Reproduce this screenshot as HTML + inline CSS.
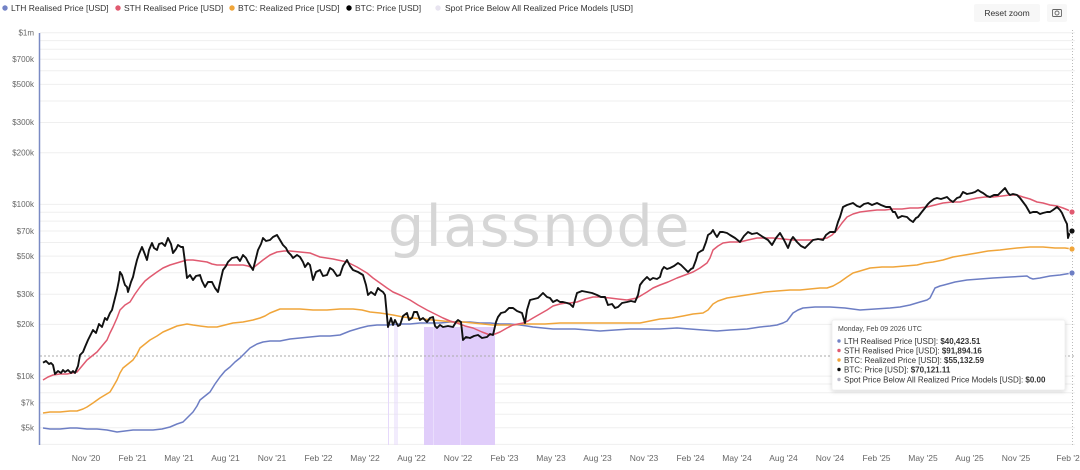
<!DOCTYPE html>
<html><head><meta charset="utf-8">
<style>
html,body{margin:0;padding:0;background:#fff;}
svg{display:block;font-family:"Liberation Sans",Arial,sans-serif;}
</style></head>
<body>
<svg width="1080" height="470" viewBox="0 0 1080 470" xmlns="http://www.w3.org/2000/svg">
<defs>
<filter id="sh" x="-10%" y="-20%" width="120%" height="150%">
<feDropShadow dx="0" dy="1" stdDeviation="2" flood-color="#000" flood-opacity="0.18"/>
</filter>
</defs>
<rect width="1080" height="470" fill="#fff"/>

<!-- legend -->
<g font-size="8.5" fill="#333">
<circle cx="5" cy="8" r="2.7" fill="#7383c6"/><text x="11" y="11">LTH Realised Price [USD]</text>
<circle cx="118" cy="8" r="2.7" fill="#e05a70"/><text x="124" y="11">STH Realised Price [USD]</text>
<circle cx="232" cy="8" r="2.7" fill="#f0a53a"/><text x="238" y="11">BTC: Realized Price [USD]</text>
<circle cx="349" cy="8" r="2.7" fill="#000"/><text x="355" y="11">BTC: Price [USD]</text>
<circle cx="438" cy="8" r="2.7" fill="#e8e4f0"/><text x="445" y="11">Spot Price Below All Realized Price Models [USD]</text>
</g>

<!-- reset zoom / camera -->
<rect x="974" y="4" width="66" height="18" rx="2" fill="#f7f7f7"/>
<text x="1007" y="16" font-size="8.5" fill="#333" text-anchor="middle">Reset zoom</text>
<rect x="1047" y="4" width="20" height="18" rx="2" fill="#f7f7f7"/>
<g fill="none" stroke="#666" stroke-width="0.9">
<rect x="1052.5" y="9.5" width="9" height="7" rx="1"/>
<circle cx="1057" cy="13" r="2"/>
</g>

<!-- gridlines -->
<g stroke="#efefef" stroke-width="1">
<line x1="40" x2="1075" y1="32.7" y2="32.7"/>
<line x1="40" x2="1075" y1="40.6" y2="40.6"/>
<line x1="40" x2="1075" y1="49.3" y2="49.3"/>
<line x1="40" x2="1075" y1="59.3" y2="59.3"/>
<line x1="40" x2="1075" y1="70.8" y2="70.8"/>
<line x1="40" x2="1075" y1="84.4" y2="84.4"/>
<line x1="40" x2="1075" y1="101" y2="101"/>
<line x1="40" x2="1075" y1="122.5" y2="122.5"/>
<line x1="40" x2="1075" y1="152.7" y2="152.7"/>
<line x1="40" x2="1075" y1="204.4" y2="204.4"/>
<line x1="40" x2="1075" y1="212.3" y2="212.3"/>
<line x1="40" x2="1075" y1="221.1" y2="221.1"/>
<line x1="40" x2="1075" y1="231" y2="231"/>
<line x1="40" x2="1075" y1="242.5" y2="242.5"/>
<line x1="40" x2="1075" y1="256.1" y2="256.1"/>
<line x1="40" x2="1075" y1="272.7" y2="272.7"/>
<line x1="40" x2="1075" y1="294.2" y2="294.2"/>
<line x1="40" x2="1075" y1="324.4" y2="324.4"/>
<line x1="40" x2="1075" y1="376.1" y2="376.1"/>
<line x1="40" x2="1075" y1="384" y2="384"/>
<line x1="40" x2="1075" y1="392.7" y2="392.7"/>
<line x1="40" x2="1075" y1="402.7" y2="402.7"/>
<line x1="40" x2="1075" y1="414.2" y2="414.2"/>
<line x1="40" x2="1075" y1="427.8" y2="427.8"/>
<line x1="40" x2="1075" y1="444.4" y2="444.4"/>
</g>

<!-- watermark -->
<text x="388" y="246" font-family="DejaVu Sans, Liberation Sans, sans-serif" font-size="57" letter-spacing="1.6" fill="#d6d6d6">glassnode</text>

<!-- purple regions -->
<rect x="424" y="327" width="71" height="118" fill="#e0cdfa"/>
<line x1="433.5" x2="433.5" y1="327" y2="445" stroke="#e9ddfc" stroke-width="1"/>
<line x1="460.5" x2="460.5" y1="327" y2="445" stroke="#e9ddfc" stroke-width="1"/>
<g stroke="#e6d9fb" stroke-width="1">
<line x1="388.5" x2="388.5" y1="324" y2="445"/>
<line x1="395" x2="395" y1="324" y2="445"/>
<line x1="397" x2="397" y1="324" y2="445"/>
</g>

<!-- y axis labels -->
<g font-size="8" fill="#666" text-anchor="end">
<text x="34" y="35.5">$1m</text>
<text x="34" y="62">$700k</text>
<text x="34" y="87">$500k</text>
<text x="34" y="125">$300k</text>
<text x="34" y="155.5">$200k</text>
<text x="34" y="207">$100k</text>
<text x="34" y="234">$70k</text>
<text x="34" y="259">$50k</text>
<text x="34" y="297">$30k</text>
<text x="34" y="327">$20k</text>
<text x="34" y="379">$10k</text>
<text x="34" y="405.5">$7k</text>
<text x="34" y="430.5">$5k</text>
</g>

<!-- x axis labels -->
<g font-size="8.5" fill="#666" text-anchor="middle">
<text x="86" y="461">Nov '20</text>
<text x="132.5" y="461">Feb '21</text>
<text x="179" y="461">May '21</text>
<text x="225.5" y="461">Aug '21</text>
<text x="272" y="461">Nov '21</text>
<text x="318.5" y="461">Feb '22</text>
<text x="365" y="461">May '22</text>
<text x="411.5" y="461">Aug '22</text>
<text x="458" y="461">Nov '22</text>
<text x="504.5" y="461">Feb '23</text>
<text x="551" y="461">May '23</text>
<text x="597.5" y="461">Aug '23</text>
<text x="644" y="461">Nov '23</text>
<text x="690.5" y="461">Feb '24</text>
<text x="737" y="461">May '24</text>
<text x="783.5" y="461">Aug '24</text>
<text x="830" y="461">Nov '24</text>
<text x="876.5" y="461">Feb '25</text>
<text x="923" y="461">May '25</text>
<text x="969.5" y="461">Aug '25</text>
<text x="1016" y="461">Nov '25</text>
<text x="1068" y="461">Feb '2</text>
</g>

<!-- crosshairs -->
<line x1="40" x2="1075" y1="356" y2="356" stroke="#aaa" stroke-width="1" stroke-dasharray="2,2"/>
<line x1="1072.5" x2="1072.5" y1="30" y2="445" stroke="#bbb" stroke-width="1" stroke-dasharray="1,2"/>

<!-- y axis line -->
<line x1="39.5" x2="39.5" y1="33" y2="445" stroke="#7a8ac4" stroke-width="1.5"/>

<!-- LTH -->
<polyline fill="none" stroke="#6d7ec4" stroke-width="1.5" stroke-linejoin="round" points="43,428 50,429 60,429 70,428 77,428 87,429 97,429 107,430 117,432 125,431 133,430 143,430 153,430 162,429 170,427 177,424 183,422 188,417 193,412 197,406 200,400 205,396 210,392 215,384 220,377 225,371 230,367 235,362 240,358 245,353 250,348 257,344 263,342 270,341 280,341 290,339 300,338 310,337 320,336 330,336 340,335 350,331 360,328 368,326 377,325 388,325 400,324 410,324 420,323 430,323 440,323 450,322 460,322 470,322 480,323 490,323 500,324 510,324 520,325 527,326 533,327 543,328 553,329 563,329 575,329 588,330 600,331 615,330 630,329 643,329 660,329 677,328 690,329 703,330 717,331 730,330 747,329 760,327 770,326 777,325 783,323 787,321 790,317 793,313 798,310 803,308 815,307 830,307 845,308 860,310 875,309 890,308 900,307 910,305 920,302 927,300 930,298 932,294 935,288 940,286 944,285 955,282 967,280 980,279 993,278 1010,277 1027,276 1030,278 1033,279 1040,278 1050,276 1060,275 1072,273"/>

<!-- Realized price -->
<polyline fill="none" stroke="#f0a53a" stroke-width="1.5" stroke-linejoin="round" points="43,413 50,412 60,412 70,411 77,411 83,409 87,407 93,403 100,398 105,395 110,392 113,387 117,380 120,373 123,368 128,364 133,360 137,354 140,348 145,344 150,340 157,336 163,332 170,329 177,326 182,325 187,324 193,325 200,326 208,327 217,327 225,325 233,323 243,322 253,320 260,318 265,316 270,313 275,311 280,309 290,309 300,309 313,310 327,310 340,309 353,309 362,310 370,312 380,313 393,315 403,317 413,318 423,319 433,320 443,321 453,322 463,322 473,323 483,324 493,325 503,325 513,325 523,324 533,324 545,324 560,323 575,323 593,323 610,323 625,323 640,323 650,321 660,319 672,318 683,316 693,314 703,313 708,310 713,304 718,301 727,298 740,296 753,294 765,292 777,291 790,290 800,290 810,289 820,288 827,288 833,286 840,282 847,277 853,273 860,271 870,268 882,267 893,267 905,266 917,265 925,263 933,262 943,260 953,257 965,255 977,253 988,251 1000,250 1008,249 1017,248 1030,247 1043,247 1055,248 1065,248 1072,249"/>

<!-- STH -->
<polyline fill="none" stroke="#e05a70" stroke-width="1.5" stroke-linejoin="round" points="43,380 48,377 53,375 60,374 67,374 72,373 77,372 82,366 87,360 92,356 97,352 102,346 107,340 110,333 113,327 117,318 120,310 125,305 130,302 135,294 140,287 145,281 150,277 157,272 163,268 170,265 180,262 187,260 193,260 200,261 207,262 212,264 217,265 225,265 230,265 237,265 243,265 248,266 253,268 258,264 263,260 270,255 277,252 284,251 290,251 300,252 310,253 320,257 333,259 347,262 357,267 367,273 373,278 380,283 387,288 393,292 400,295 410,300 418,305 427,310 435,314 443,318 450,321 457,323 465,326 473,328 482,332 490,335 495,334 500,332 507,328 513,325 518,324 523,323 528,321 533,318 540,314 547,310 553,306 560,304 566,303 570,303 577,302 585,299 593,297 600,297 610,298 618,299 627,300 637,298 642,295 647,292 653,288 660,285 668,282 677,278 685,275 693,272 700,268 707,263 710,258 713,250 718,246 723,243 730,242 740,242 748,240 757,238 765,238 773,238 783,239 793,240 803,240 813,240 820,239 827,238 832,235 837,230 842,223 847,217 853,214 860,212 868,211 877,210 885,210 893,209 902,209 910,208 918,208 927,207 935,205 943,203 952,202 960,202 968,200 977,198 985,197 993,197 1002,196 1010,195 1017,195 1023,197 1030,199 1037,202 1043,203 1050,205 1057,206 1063,208 1068,210 1072,212"/>

<!-- BTC price -->
<polyline fill="none" stroke="#111" stroke-width="1.9" stroke-linejoin="round" points="43,362.7 46,361 49,364 51,363 53,365 55,374 58,371 61,373 63,370 65,372 68,370 71,373 73,371 75,373 78,366 80,355 83,352 85,347 88,340 90,336 93,330 96,333 99,324 102,327 105,318 107,320 110,313 112,310 114,302 117,290 119,280 120,272 122,275 124,282 125,285 127,287 128,292 131,282 133,277 135,268 137,260 139,254 142,247 144,252 147,260 149,250 152,243 154,248 157,250 159,244 162,243 165,246 168,238 171,244 173,253 176,249 178,245 181,247 183,247 185,262 187,278 190,275 193,280 196,276 200,275 202,281 205,287 208,282 212,282 215,288 218,292 220,283 223,270 226,266 228,262 232,258 237,257 240,261 243,255 246,258 248,262 251,267 253,270 256,258 258,250 261,244 263,238 266,241 270,240 273,237 277,235 280,240 283,245 286,248 288,252 291,255 293,258 297,255 300,257 303,262 305,267 308,263 310,265 313,280 316,272 320,270 323,276 327,275 330,268 333,270 337,276 340,275 343,266 347,260 350,266 353,270 358,272 363,275 366,285 368,295 371,292 375,295 378,288 380,290 383,292 385,295 388,327 391,318 393,325 395,320 398,326 400,325 403,316 407,313 409,320 412,318 414,312 417,312 420,320 423,318 427,322 430,318 433,317 435,326 437,328 440,325 443,327 448,326 453,327 456,322 458,320 461,322 463,340 466,337 470,338 474,336 478,335 482,338 487,337 490,334 493,335 496,322 498,317 501,313 505,312 509,308 513,308 517,311 522,313 525,323 527,310 530,300 534,299 538,298 541,295 543,293 547,297 550,298 553,302 557,300 560,302 563,302 567,303 570,304 573,307 575,300 577,293 582,291 587,292 592,293 597,295 601,297 605,297 608,305 612,304 615,308 618,307 622,303 627,302 631,301 635,302 638,295 640,285 643,281 647,277 650,280 653,278 657,279 660,277 662,270 664,267 667,269 670,268 674,266 678,263 681,265 683,267 686,270 688,272 691,269 693,268 696,260 698,253 701,251 703,250 706,242 708,235 711,233 713,230 715,234 717,237 720,232 723,232 727,233 730,235 735,238 740,242 744,236 748,232 752,234 757,233 760,235 763,237 768,240 772,245 776,238 780,233 784,240 788,248 791,240 793,237 797,242 801,246 805,248 809,244 813,240 818,239 823,240 826,235 830,232 835,232 838,222 840,217 843,207 847,205 850,204 853,203 857,206 860,207 864,204 868,203 872,205 877,203 881,205 886,207 890,207 893,212 895,212 898,218 902,216 907,217 910,220 913,222 916,218 918,217 921,213 925,208 928,204 930,202 934,199 937,198 941,199 947,197 950,200 953,202 957,198 960,197 963,192 967,194 972,193 975,192 978,190 981,192 983,193 987,196 990,197 994,195 998,195 1002,191 1005,188 1008,193 1010,195 1013,194 1017,195 1020,198 1023,202 1026,206 1030,213 1033,212 1037,212 1040,214 1043,213 1047,212 1050,212 1053,210 1057,207 1060,210 1062,213 1065,220 1067,224 1068,238 1070,232 1072,231"/>

<!-- end markers -->
<circle cx="1072" cy="212" r="3" fill="#e05a70" stroke="#fff" stroke-width="0.8"/>
<circle cx="1072" cy="231" r="3" fill="#111" stroke="#fff" stroke-width="0.8"/>
<circle cx="1072" cy="249" r="3" fill="#f0a53a" stroke="#fff" stroke-width="0.8"/>
<circle cx="1072" cy="273" r="3" fill="#6d7ec4" stroke="#fff" stroke-width="0.8"/>

<!-- tooltip -->
<rect x="832" y="320" width="233" height="70" rx="2" fill="#fff" stroke="#eee" stroke-width="0.8" filter="url(#sh)"/>
<text x="838" y="331" font-size="7" fill="#444">Monday, Feb 09 2026 UTC</text>
<g font-size="8" fill="#333">
<circle cx="839" cy="341" r="1.7" fill="#7383c6"/>
<text x="844" y="344">LTH Realised Price [USD]: <tspan font-weight="bold">$40,423.51</tspan></text>
<circle cx="839" cy="350.5" r="1.7" fill="#e05a70"/>
<text x="844" y="353.5">STH Realised Price [USD]: <tspan font-weight="bold">$91,894.16</tspan></text>
<circle cx="839" cy="360" r="1.7" fill="#f0a53a"/>
<text x="844" y="363">BTC: Realized Price [USD]: <tspan font-weight="bold">$55,132.59</tspan></text>
<circle cx="839" cy="369.5" r="1.7" fill="#111"/>
<text x="844" y="372.5">BTC: Price [USD]: <tspan font-weight="bold">$70,121.11</tspan></text>
<circle cx="839" cy="379.5" r="1.7" fill="#b8b8c8"/>
<text x="844" y="382.5">Spot Price Below All Realized Price Models [USD]: <tspan font-weight="bold">$0.00</tspan></text>
</g>
</svg>
</body></html>
